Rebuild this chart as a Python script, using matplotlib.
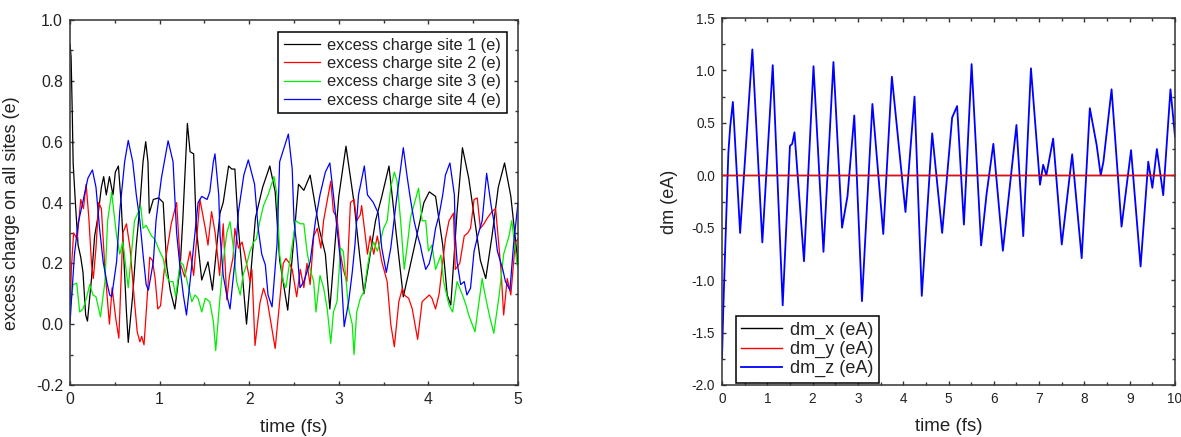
import matplotlib
matplotlib.use("Agg")
import matplotlib.pyplot as plt
from matplotlib.ticker import MultipleLocator, FormatStrFormatter

plt.rcParams['font.family'] = ['Liberation Sans', 'DejaVu Sans']

# ---------------- data ----------------
site1_t = [0.00, 0.012, 0.025, 0.035, 0.06, 0.09, 0.12, 0.145, 0.175, 0.195, 0.24, 0.275, 0.31, 0.35, 0.376,
           0.405, 0.44, 0.48, 0.506, 0.54, 0.573, 0.603, 0.63, 0.65, 0.70, 0.74, 0.78, 0.815, 0.845, 0.87,
           0.885, 0.93, 0.99, 1.04, 1.08, 1.12, 1.17, 1.23, 1.26, 1.31, 1.34, 1.38, 1.41, 1.47, 1.54, 1.59,
           1.674, 1.71, 1.77, 1.805, 1.84, 1.88, 1.97, 2.07, 2.15, 2.23, 2.29, 2.34, 2.43, 2.55, 2.61, 2.68,
           2.78, 2.85, 2.90, 3.00, 3.08, 3.17, 3.22, 3.28, 3.41, 3.48, 3.56, 3.64, 3.72, 3.84, 3.95, 4.01,
           4.08, 4.16, 4.21, 4.25, 4.32, 4.38, 4.45, 4.53, 4.58, 4.64, 4.71, 4.78, 4.85, 4.92, 5.00]
site1_v = [0.92, 0.88, 0.70, 0.53, 0.40, 0.26, 0.22, 0.17, 0.03, 0.01, 0.15, 0.29, 0.35, 0.45, 0.485,
           0.425, 0.485, 0.425, 0.50, 0.52, 0.39, 0.205, 0.04, -0.06, 0.096, 0.26, 0.39, 0.534, 0.60, 0.534,
           0.365, 0.41, 0.415, 0.40, 0.19, 0.11, 0.05, 0.19, 0.35, 0.66, 0.567, 0.56, 0.315, 0.145, 0.205, 0.112,
           0.365, 0.40, 0.52, 0.51, 0.51, 0.315, 0.0, 0.35, 0.45, 0.52, 0.435, 0.21, 0.046, 0.46, 0.44, 0.49,
           0.315, 0.23, 0.05, 0.42, 0.585, 0.40, 0.26, 0.10, 0.34, 0.42, 0.52, 0.30, 0.09, 0.25, 0.40, 0.435,
           0.42, 0.26, 0.096, 0.063, 0.37, 0.58, 0.48, 0.315, 0.21, 0.15, 0.29, 0.45, 0.53, 0.42, 0.20]

site2_t = [0.00, 0.015, 0.04, 0.08, 0.12, 0.15, 0.18, 0.21, 0.24, 0.26, 0.29, 0.32, 0.35, 0.39, 0.44, 0.47,
           0.51, 0.545, 0.59, 0.63, 0.67, 0.72, 0.75, 0.78, 0.80, 0.826, 0.86, 0.89, 0.92, 0.95, 0.98, 1.01,
           1.06, 1.13, 1.19, 1.23, 1.28, 1.34, 1.38, 1.45, 1.51, 1.54, 1.58, 1.62, 1.67, 1.71, 1.75, 1.78,
           1.82, 1.84, 1.88, 1.92, 1.95, 2.01, 2.03, 2.065, 2.12, 2.16, 2.20, 2.29, 2.34, 2.38, 2.41, 2.45,
           2.48, 2.53, 2.57, 2.61, 2.645, 2.68, 2.72, 2.76, 2.80, 2.83, 2.91, 2.94, 2.98, 3.02, 3.05, 3.09,
           3.13, 3.17, 3.20, 3.24, 3.255, 3.32, 3.35, 3.39, 3.43, 3.48, 3.54, 3.58, 3.62, 3.67, 3.71, 3.73,
           3.78, 3.82, 3.88, 3.93, 3.97, 4.01, 4.04, 4.08, 4.12, 4.16, 4.19, 4.23, 4.28, 4.30, 4.35, 4.40,
           4.44, 4.47, 4.51, 4.545, 4.58, 4.62, 4.66, 4.71, 4.75, 4.81, 4.84, 4.88, 4.92, 4.97, 5.00]
site2_v = [0.02, 0.18, 0.30, 0.28, 0.41, 0.38, 0.46, 0.35, 0.20, 0.15, 0.25, 0.40, 0.38, 0.18, 0.0, 0.12,
           0.02, -0.046, 0.30, 0.33, 0.25, 0.074, -0.025, -0.058, -0.04, -0.068, 0.08, 0.22, 0.21, 0.15, 0.05, 0.06,
           0.20, 0.33, 0.40, 0.20, 0.155, 0.24, 0.16, 0.41, 0.315, 0.26, 0.37, 0.30, 0.16, 0.33, 0.08, 0.16,
           0.22, 0.315, 0.25, 0.27, 0.23, 0.14, 0.18, -0.07, 0.07, 0.118, 0.08, -0.08, 0.074, 0.20, 0.216, 0.20,
           0.18, 0.09, 0.18, 0.12, 0.20, 0.13, 0.29, 0.315, 0.25, 0.34, 0.47, 0.37, 0.35, 0.23, 0.18, 0.14,
           0.40, 0.41, 0.34, 0.36, 0.39, 0.23, 0.29, 0.23, 0.29, 0.205, 0.14, 0.0, -0.074, 0.074, 0.118, 0.096,
           0.085, 0.05, -0.05, 0.074, 0.085, 0.096, 0.085, 0.05, 0.10, 0.205, 0.28, 0.34, 0.365, 0.18, 0.20, 0.29,
           0.30, 0.315, 0.41, 0.415, 0.315, 0.33, 0.35, 0.37, 0.38, 0.18, 0.03, 0.15, 0.096, 0.27, 0.28]

site3_t = [0.00, 0.034, 0.075, 0.108, 0.145, 0.183, 0.22, 0.257, 0.29, 0.34, 0.39, 0.42, 0.465, 0.52, 0.555,
           0.59, 0.65, 0.72, 0.79, 0.815, 0.85, 0.91, 0.945, 1.0, 1.04, 1.075, 1.11, 1.15, 1.18, 1.23, 1.265,
           1.30, 1.36, 1.395, 1.43, 1.47, 1.51, 1.56, 1.60, 1.626, 1.67, 1.71, 1.75, 1.786, 1.82, 1.86, 1.90,
           1.93, 1.97, 2.01, 2.05, 2.08, 2.12, 2.16, 2.21, 2.277, 2.31, 2.34, 2.38, 2.41, 2.45, 2.52, 2.57,
           2.61, 2.645, 2.68, 2.72, 2.745, 2.79, 2.83, 2.87, 2.91, 2.94, 2.98, 3.02, 3.05, 3.07, 3.11, 3.15,
           3.17, 3.20, 3.24, 3.28, 3.315, 3.35, 3.39, 3.43, 3.46, 3.50, 3.54, 3.58, 3.62, 3.65, 3.69, 3.73,
           3.765, 3.80, 3.89, 3.93, 3.97, 4.0, 4.04, 4.08, 4.14, 4.17, 4.23, 4.27, 4.32, 4.38, 4.42, 4.45,
           4.52, 4.565, 4.60, 4.63, 4.68, 4.73, 4.79, 4.84, 4.90, 4.93, 4.99, 5.00]
site3_v = [0.05, 0.13, 0.135, 0.04, 0.05, 0.085, 0.13, 0.096, 0.09, 0.024, 0.14, 0.34, 0.433, 0.29, 0.23,
           0.27, 0.12, 0.34, 0.387, 0.315, 0.325, 0.29, 0.28, 0.24, 0.216, 0.16, 0.14, 0.14, 0.09, 0.205, 0.195,
           0.15, 0.074, 0.096, 0.085, 0.04, 0.085, 0.074, 0.009, -0.087, 0.074, 0.205, 0.30, 0.337, 0.26, 0.14, 0.096,
           0.16, 0.195, 0.24, 0.27, 0.28, 0.34, 0.39, 0.425, 0.485, 0.425, 0.23, 0.14, 0.12, 0.20, 0.34, 0.33,
           0.33, 0.24, 0.18, 0.14, 0.04, 0.16, 0.12, 0.052, -0.063, 0.04, 0.074, 0.25, 0.24, 0.18, 0.05, 0.0,
           -0.10, 0.04, 0.085, 0.107, 0.18, 0.24, 0.27, 0.24, 0.27, 0.315, 0.34, 0.45, 0.50, 0.47, 0.34, 0.18,
           0.26, 0.35, 0.447, 0.34, 0.34, 0.24, 0.26, 0.18, 0.227, 0.14, 0.063, 0.04, 0.14, 0.096, 0.063, 0.03,
           -0.025, 0.074, 0.15, 0.10, 0.03, -0.03, 0.096, 0.23, 0.29, 0.34, 0.195, 0.19]

site4_t = [0.00, 0.015, 0.05, 0.09, 0.127, 0.16, 0.20, 0.25, 0.29, 0.33, 0.37, 0.41, 0.443, 0.465, 0.52,
           0.555, 0.61, 0.65, 0.70, 0.74, 0.78, 0.815, 0.85, 0.875, 0.93, 0.96, 1.02, 1.095, 1.15, 1.19, 1.23,
           1.265, 1.30, 1.34, 1.40, 1.43, 1.47, 1.53, 1.56, 1.60, 1.618, 1.66, 1.675, 1.71, 1.75, 1.786, 1.84,
           1.88, 1.94, 1.99, 2.06, 2.10, 2.14, 2.18, 2.21, 2.255, 2.31, 2.34, 2.437, 2.48, 2.50, 2.53, 2.567,
           2.61, 2.68, 2.74, 2.79, 2.85, 2.90, 2.94, 2.98, 3.02, 3.04, 3.06, 3.11, 3.15, 3.18, 3.22, 3.285,
           3.32, 3.385, 3.44, 3.48, 3.53, 3.58, 3.64, 3.72, 3.765, 3.80, 3.84, 3.88, 3.91, 3.93, 3.97, 4.01,
           4.04, 4.08, 4.12, 4.16, 4.19, 4.24, 4.29, 4.30, 4.32, 4.36, 4.40, 4.43, 4.47, 4.51, 4.55, 4.60,
           4.65, 4.70, 4.73, 4.77, 4.83, 4.86, 4.91, 4.95, 5.00]
site4_v = [0.0, 0.074, 0.23, 0.33, 0.38, 0.425, 0.48, 0.507, 0.45, 0.315, 0.205, 0.14, 0.096, 0.09, 0.205,
           0.37, 0.534, 0.604, 0.534, 0.425, 0.34, 0.23, 0.13, 0.112, 0.205, 0.34, 0.48, 0.603, 0.534, 0.30, 0.18,
           0.096, 0.03, 0.14, 0.315, 0.40, 0.42, 0.41, 0.435, 0.534, 0.56, 0.425, 0.29, 0.16, 0.096, 0.05, 0.205,
           0.37, 0.49, 0.54, 0.46, 0.315, 0.23, 0.195, 0.096, 0.057, 0.26, 0.534, 0.625, 0.51, 0.34, 0.26, 0.12,
           0.14, 0.205, 0.34, 0.425, 0.50, 0.53, 0.425, 0.315, 0.205, 0.096, -0.008, 0.074, 0.17, 0.26, 0.425, 0.52,
           0.425, 0.40, 0.365, 0.25, 0.17, 0.25, 0.40, 0.58, 0.48, 0.41, 0.34, 0.29, 0.26, 0.23, 0.18, 0.20,
           0.24, 0.315, 0.36, 0.425, 0.49, 0.53, 0.425, 0.29, 0.205, 0.13, 0.14, 0.096, 0.118, 0.24, 0.29, 0.34,
           0.496, 0.39, 0.34, 0.24, 0.18, 0.14, 0.112, 0.26, 0.40]

site_labels = ["excess charge site 1 (e)", "excess charge site 2 (e)",
               "excess charge site 3 (e)", "excess charge site 4 (e)"]

dm_t = [0.0, 0.03, 0.07, 0.14, 0.18, 0.24, 0.40, 0.67, 0.89, 1.12, 1.34, 1.50, 1.55, 1.60, 1.81, 2.02,
        2.24, 2.46, 2.65, 2.77, 2.92, 3.09, 3.32, 3.56, 3.75, 4.05, 4.25, 4.41, 4.64, 4.86, 5.08, 5.19,
        5.34, 5.51, 5.72, 5.84, 5.99, 6.20, 6.50, 6.65, 6.82, 7.02, 7.09, 7.16, 7.31, 7.50, 7.73, 7.94,
        8.12, 8.27, 8.36, 8.42, 8.60, 8.82, 9.03, 9.24, 9.41, 9.50, 9.60, 9.74, 9.90, 10.0]
dm_z = [-1.75, -1.25, -0.71, 0.21, 0.46, 0.70, -0.55, 1.20, -0.64, 1.05, -1.24, 0.28, 0.30, 0.41, -0.82, 1.04,
        -0.73, 1.08, -0.50, -0.20, 0.57, -1.20, 0.68, -0.56, 0.94, -0.35, 0.75, -1.15, 0.40, -0.55, 0.55, 0.66,
        -0.47, 1.06, -0.67, -0.18, 0.30, -0.72, 0.48, -0.58, 1.02, -0.09, 0.10, 0.0, 0.35, -0.66, 0.20, -0.79,
        0.64, 0.29, 0.0, 0.13, 0.82, -0.49, 0.24, -0.87, 0.13, -0.12, 0.25, -0.19, 0.82, 0.37]
dmxy_t = [0.0, 10.0]
dm_x = [0.0, 0.0]
dm_y = [0.0, 0.0]
dm_labels = ["dm_x (eA)", "dm_y (eA)", "dm_z (eA)"]

# ---------------- figure ----------------
W, H = 1181, 437
fig = plt.figure(figsize=(W / 100, H / 100), dpi=100)
ax1 = fig.add_axes([70 / W, 1 - 385 / H, 448 / W, 365 / H])
ax2 = fig.add_axes([722 / W, 1 - 385 / H, 453 / W, 367 / H])

txt = '#222222'
spine_c = '#333333'

lw = 0.9
c1 = ['#000000', '#ff0000', '#00ee00', '#0000ff']
series = [(site1_t, site1_v), (site2_t, site2_v), (site3_t, site3_v), (site4_t, site4_v)]
for (t, v), c, lab in zip(series, c1, site_labels):
    ax1.plot(t, v, color=c, lw=lw, label=lab)

ax2.plot(dmxy_t, dm_x, color='#000000', lw=1.0, label=dm_labels[0], zorder=3)
ax2.plot(dmxy_t, dm_y, color='#ff0000', lw=1.0, label=dm_labels[1], zorder=4)
ax2.plot(dm_t, dm_z, color='#0000ff', lw=1.3, label=dm_labels[2], zorder=2)

ax1.set_xlim(0, 5)
ax1.set_ylim(-0.2, 1.0)
ax1.xaxis.set_major_locator(MultipleLocator(1))
ax1.xaxis.set_minor_locator(MultipleLocator(0.5))
ax1.yaxis.set_major_locator(MultipleLocator(0.2))
ax1.yaxis.set_minor_locator(MultipleLocator(0.1))
ax1.yaxis.set_major_formatter(FormatStrFormatter('%.1f'))
ax1.xaxis.set_major_formatter(FormatStrFormatter('%d'))

ax2.set_xlim(0, 10)
ax2.set_ylim(-2.0, 1.5)
ax2.xaxis.set_major_locator(MultipleLocator(1))
ax2.xaxis.set_minor_locator(MultipleLocator(0.5))
ax2.yaxis.set_major_locator(MultipleLocator(0.5))
ax2.yaxis.set_minor_locator(MultipleLocator(0.25))
ax2.yaxis.set_major_formatter(FormatStrFormatter('%.1f'))
ax2.xaxis.set_major_formatter(FormatStrFormatter('%d'))

for ax, fs in ((ax1, 11.3), (ax2, 9.8)):
    for s in ax.spines.values():
        s.set_linewidth(1.1)
        s.set_color(spine_c)
    ax.tick_params(which='both', direction='in', top=True, right=True,
                   color=spine_c, width=1.0, labelcolor=txt, labelsize=fs)
    ax.tick_params(which='major', length=3.2, pad=5)
    ax.tick_params(which='minor', length=2.4)

ax1.set_xlabel("time (fs)", fontsize=13.5, color=txt, labelpad=9)
ax1.set_ylabel("excess charge on all sites (e)", fontsize=13, color=txt)
ax1.yaxis.set_label_coords(-0.112, 0.47)
ax2.set_xlabel("time (fs)", fontsize=13.5, color=txt, labelpad=9)
ax2.set_ylabel("dm (eA)", fontsize=13, color=txt, labelpad=10)

leg1 = ax1.legend(loc='upper right', bbox_to_anchor=(0.9754, 0.967), borderaxespad=0,
                  fontsize=11.8, fancybox=False, framealpha=1, edgecolor='#000000',
                  handlelength=2.2, handletextpad=0.45, labelspacing=0.2, borderpad=0.35)
leg1.get_frame().set_linewidth(1.1)
for t in leg1.get_texts():
    t.set_color(txt)

leg2 = ax2.legend(loc='lower left', bbox_to_anchor=(0.030, 0.006), borderaxespad=0,
                  fontsize=13, fancybox=False, framealpha=1, edgecolor='#000000',
                  handlelength=2.25, handletextpad=0.45, labelspacing=0.12, borderpad=0.3)
leg2.get_frame().set_linewidth(1.1)
for t in leg2.get_texts():
    t.set_color(txt)

fig.savefig("out.png", dpi=100)
